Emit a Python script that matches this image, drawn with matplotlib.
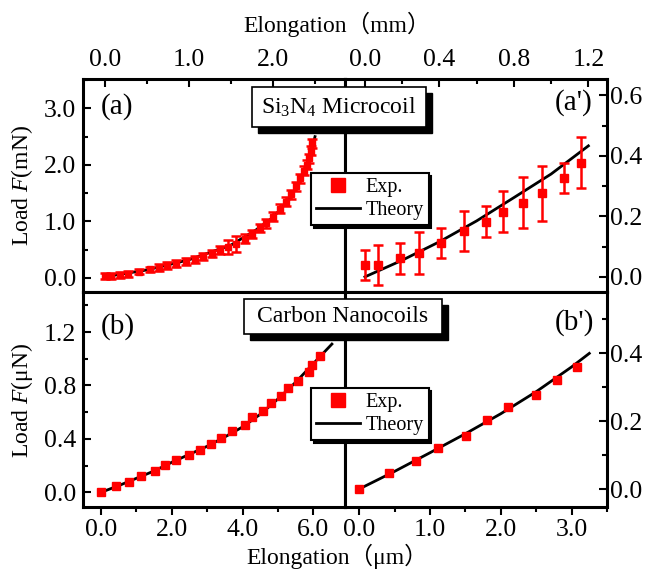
import matplotlib
matplotlib.use("Agg")
import matplotlib.pyplot as plt
from matplotlib.patches import Rectangle
from matplotlib.lines import Line2D
from matplotlib.ticker import MultipleLocator, FormatStrFormatter

plt.rcParams['font.family'] = 'serif'
plt.rcParams['font.serif'] = ['Liberation Serif']
plt.rcParams['mathtext.fontset'] = 'custom'
plt.rcParams['mathtext.rm'] = 'Liberation Serif'
plt.rcParams['mathtext.it'] = 'Liberation Serif:italic'
plt.rcParams['font.size'] = 17

# (a) Si3N4 microcoil, mN vs mm
a_x = [0.00, 0.07, 0.18, 0.27, 0.41, 0.54, 0.65, 0.74, 0.85, 0.96,
       1.07, 1.17, 1.27, 1.37, 1.47, 1.56, 1.67, 1.75, 1.84, 1.92,
       2.00, 2.08, 2.15, 2.21, 2.27, 2.32, 2.37, 2.40, 2.43, 2.45, 2.47]
a_y = [0.03, 0.03, 0.05, 0.07, 0.11, 0.15, 0.18, 0.22, 0.25, 0.29,
       0.33, 0.38, 0.43, 0.50, 0.55, 0.60, 0.69, 0.78, 0.88, 0.97,
       1.08, 1.22, 1.35, 1.48, 1.62, 1.76, 1.90, 2.00, 2.12, 2.25, 2.38]
a_err = [0.05, 0.05, 0.05, 0.05, 0.05, 0.05, 0.06, 0.06, 0.06, 0.06,
         0.06, 0.06, 0.06, 0.07, 0.12, 0.15, 0.08, 0.07, 0.07, 0.08,
         0.08, 0.08, 0.08, 0.08, 0.08, 0.08, 0.08, 0.08, 0.08, 0.08, 0.08]
a_tx = [0.0, 0.5, 1.0, 1.5, 1.8, 2.0, 2.2, 2.3, 2.4, 2.45, 2.5]
a_ty = [0.02, 0.14, 0.32, 0.58, 0.85, 1.07, 1.40, 1.66, 1.98, 2.20, 2.50]

# (a') Si3N4 microcoil, right panel
ap_x = [0.00, 0.07, 0.19, 0.29, 0.41, 0.53, 0.65, 0.74, 0.85, 0.95, 1.07, 1.16]
ap_y = [0.039, 0.039, 0.061, 0.079, 0.112, 0.152, 0.182, 0.215, 0.245, 0.276, 0.327, 0.378]
ap_err = [0.050, 0.065, 0.050, 0.068, 0.051, 0.067, 0.051, 0.068, 0.085, 0.090, 0.051, 0.085]
ap_tx = [0.0, 0.2, 0.4, 0.6, 0.8, 1.0, 1.2]
ap_ty = [0.0, 0.055, 0.116, 0.185, 0.262, 0.34, 0.433]

# (b) carbon nanocoils, uN vs um
b_x = [0.0, 0.42, 0.80, 1.12, 1.52, 1.81, 2.11, 2.49, 2.80, 3.10, 3.40,
       3.69, 4.07, 4.27, 4.56, 4.79, 5.08, 5.28, 5.56, 5.86, 5.97, 6.17]
b_y = [0.0, 0.045, 0.08, 0.122, 0.157, 0.205, 0.24, 0.28, 0.32, 0.36, 0.41,
       0.462, 0.502, 0.562, 0.61, 0.667, 0.722, 0.78, 0.835, 0.90, 0.957, 1.02]
b_tx = [0, 0.5, 1.0, 1.5, 2.0, 2.5, 3.0, 3.5, 4.0, 4.5, 5.0, 5.5, 6.0, 6.52]
b_ty = [0, 0.05, 0.105, 0.16, 0.225, 0.285, 0.345, 0.415, 0.49, 0.585, 0.70, 0.825, 0.965, 1.11]

# (b') carbon nanocoils, right panel
bp_x = [0.0, 0.42, 0.80, 1.11, 1.51, 1.80, 2.10, 2.50, 2.79, 3.08]
bp_y = [0.0, 0.048, 0.082, 0.12, 0.157, 0.203, 0.241, 0.278, 0.322, 0.361]
bp_tx = [0, 0.5, 1.0, 1.5, 2.0, 2.5, 3.0, 3.25]
bp_ty = [0, 0.052, 0.107, 0.163, 0.222, 0.287, 0.36, 0.40]

W, H = 648, 576


def fx(px):
    return px / W


def fy(py):
    return 1 - py / H


L, M, R = 83, 345, 607
T, C, B = 79, 292, 507

fig = plt.figure(figsize=(6.48, 5.76), dpi=100)
ax_a = fig.add_axes([fx(L), fy(C), fx(M) - fx(L), fy(T) - fy(C)])
ax_ap = fig.add_axes([fx(M), fy(C), fx(R) - fx(M), fy(T) - fy(C)])
ax_b = fig.add_axes([fx(L), fy(B), fx(M) - fx(L), fy(C) - fy(B)])
ax_bp = fig.add_axes([fx(M), fy(B), fx(R) - fx(M), fy(C) - fy(B)])


def style(ax, xside, yside, xmaj, xmin, ymaj, ymin):
    for s in ax.spines.values():
        s.set_linewidth(2.2)
    ax.tick_params(which='both', width=1.5, top=False, bottom=False, left=False, right=False,
                   labeltop=False, labelbottom=False, labelleft=False, labelright=False,
                   labelsize=18.5)
    if xside == 'top':
        ax.tick_params(axis='x', which='both', top=True, labeltop=True, direction='in', pad=6)
    else:
        ax.tick_params(axis='x', which='both', bottom=True, labelbottom=True, direction='out', pad=3)
    if yside == 'left':
        ax.tick_params(axis='y', which='both', left=True, labelleft=True, direction='in', pad=5)
    else:
        ax.tick_params(axis='y', which='both', right=True, labelright=True, direction='in', pad=2)
    ax.tick_params(which='major', length=6)
    ax.tick_params(which='minor', length=3.5)
    ax.xaxis.set_major_locator(MultipleLocator(xmaj))
    ax.xaxis.set_minor_locator(MultipleLocator(xmin))
    ax.yaxis.set_major_locator(MultipleLocator(ymaj))
    ax.yaxis.set_minor_locator(MultipleLocator(ymin))
    ax.xaxis.set_major_formatter(FormatStrFormatter('%.1f'))
    ax.yaxis.set_major_formatter(FormatStrFormatter('%.1f'))


eb = dict(fmt='s', color='red', capsize=3.5, capthick=1.8, elinewidth=1.8, zorder=3)

ax_a.plot(a_tx, a_ty, 'k-', lw=2, zorder=2)
ax_a.errorbar(a_x, a_y, yerr=a_err, ms=4.5, **eb)
ax_a.set_xlim(-0.26, 2.857)
ax_a.set_ylim(-0.25, 3.52)
style(ax_a, 'top', 'left', 1.0, 0.5, 1.0, 0.5)

ax_ap.plot(ap_tx, ap_ty, 'k-', lw=2, zorder=2)
ax_ap.errorbar(ap_x, ap_y, yerr=ap_err, ms=5.5, **eb)
ax_ap.set_xlim(-0.107, 1.30)
ax_ap.set_ylim(-0.05, 0.654)
style(ax_ap, 'top', 'right', 0.4, 0.2, 0.2, 0.1)

ax_b.plot(b_tx, b_ty, 'k-', lw=2, zorder=2)
ax_b.plot(b_x, b_y, 's', color='red', ms=5.5, zorder=3)
ax_b.set_xlim(-0.51, 6.89)
ax_b.set_ylim(-0.11, 1.50)
style(ax_b, 'bottom', 'left', 2.0, 1.0, 0.4, 0.2)

ax_bp.plot(bp_tx, bp_ty, 'k-', lw=2, zorder=2)
ax_bp.plot(bp_x, bp_y, 's', color='red', ms=5.5, zorder=3)
ax_bp.set_xlim(-0.2, 3.5)
ax_bp.set_ylim(-0.053, 0.581)
style(ax_bp, 'bottom', 'right', 1.0, 0.5, 0.2, 0.1)

# panel labels
for (px, py, s) in [(117, 107, '(a)'), (574, 103, "(a')"), (118, 327, '(b)'), (574, 323, "(b')")]:
    fig.text(fx(px), fy(py), s, fontsize=21, ha='center', va='center')

# axis titles
cjk = ['Liberation Serif', 'Noto Sans CJK SC']
fig.text(fx(337), fy(24), 'Elongation\uff08mm\uff09', family=cjk, fontsize=17, ha='center', va='center')
fig.text(fx(337), fy(556), 'Elongation\uff08\u03bcm\uff09', family=cjk, fontsize=17, ha='center', va='center')
fig.text(fx(22), fy(185), 'Load $F$(mN)', rotation=90, fontsize=17, ha='center', va='center')
fig.text(fx(22), fy(400), 'Load $F$(\u03bcN)', rotation=90, fontsize=17, ha='center', va='center')

# title boxes with black drop shadow
for (x0, y0, x1, y1, s) in [(252, 87, 426, 127, 'Si$_3$N$_4$ Microcoil'),
                            (244, 299, 442, 334, 'Carbon Nanocoils')]:
    fig.add_artist(Rectangle((fx(x0 + 6), fy(y1 + 6)), fx(x1 - x0), (y1 - y0) / H,
                             transform=fig.transFigure, facecolor='k', edgecolor='k', zorder=4))
    fig.add_artist(Rectangle((fx(x0), fy(y1)), fx(x1 - x0), (y1 - y0) / H,
                             transform=fig.transFigure, facecolor='white', edgecolor='k', lw=1.2, zorder=5))
    fig.text(fx((x0 + x1) / 2), fy((y0 + y1) / 2), s, fontsize=17, ha='center', va='center', zorder=6)

# legends
handles = [Line2D([], [], ls='none', marker='s', color='red', ms=10),
           Line2D([], [], color='k', lw=2)]
for top in [173, 388]:
    leg = fig.legend(handles, ['Exp.', 'Theory'], loc='upper left',
                     bbox_to_anchor=(fx(311), fy(top)), bbox_transform=fig.transFigure,
                     fontsize=14.5, frameon=True, fancybox=False, edgecolor='k', framealpha=1,
                     shadow={'color': 'k', 'alpha': 1}, handlelength=2.2, handletextpad=0.25,
                     borderpad=0.25, labelspacing=0.2, borderaxespad=0)
    leg.get_frame().set_linewidth(1.5)

fig.savefig('out.png', dpi=100)
